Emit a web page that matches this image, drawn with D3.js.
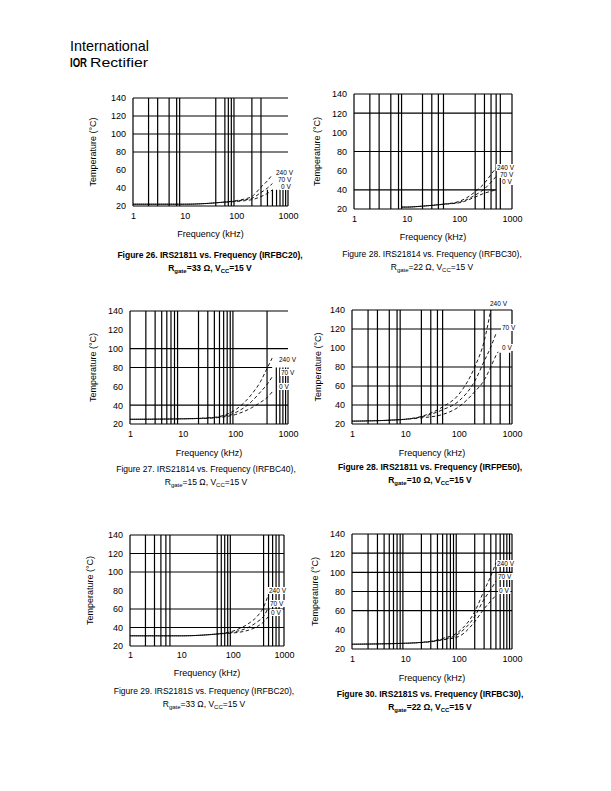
<!DOCTYPE html>
<html><head><meta charset="utf-8">
<script src="https://cdn.jsdelivr.net/npm/d3@7"></script>
<style>
html,body{margin:0;padding:0;background:#fff;}
svg text{font-family:"Liberation Sans",Arial,sans-serif;fill:#000;}
</style></head><body>
<svg id="page" width="611" height="791"></svg>
<script>
// ---------- data ----------
const seriesLabels = ["240 V", "70 V", "0 V"];
const xTickLabels = [1, 10, 100, 1000];
const yTickLabels = [20, 40, 60, 80, 100, 120, 140];

// Figure 26 (IRFBC20, 33 ohm)
const fig26Freq = [1, 10, 30, 50, 100, 150, 200, 300, 400, 500];
const fig26T240 = [22, 22, 23, 24, 26, 28, 30.5, 41, 48, 55];
const fig26T70  = [22, 22, 23, 24, 25.5, 27, 28.5, 35, 40, 45];
const fig26T0   = [22, 22, 23, 24, 25, 26, 27, 30.5, 34, 38];
const fig26HGrid = [80, 100, 120];
const fig26VGrid = [2, 3, 5, 7, 8, 40, 60, 70, 80, 90, 200, 300];
const fig26VPart = [400, 500, 600, 700, 800, 900, 1000];

// Figure 28 (IRFBC30, 22 ohm)
const fig28aFreq = [8, 10, 20, 50, 100, 200, 300, 400, 500];
const fig28aT240 = [22, 22, 23, 25, 28, 38, 47, 56, 63];
const fig28aT70  = [22, 22, 23, 25, 27, 34.5, 41, 48, 54];
const fig28aT0   = [22, 22, 23, 25, 26.5, 32.5, 36.5, 38.5, 40];
const fig28aHGrid = [80, 120];
const fig28aVGrid = [2, 3, 5, 7, 8, 20, 30, 40, 50, 200, 300, 400, 500, 600, 1000];
const fig28aVPart = [];

// Figure 27 (IRFBC40, 15 ohm)
const fig27Freq = [1, 10, 30, 50, 100, 200, 300, 400, 500];
const fig27T240 = [25, 25.5, 26.5, 28, 35, 51, 65, 79, 90];
const fig27T70  = [25, 25.5, 26.5, 27.5, 32, 43.5, 54, 62, 70];
const fig27T0   = [25, 25.5, 26, 27, 30, 37, 43, 48, 54];
const fig27HGrid = [40, 100];
const fig27VGrid = [2, 3, 4, 5, 6, 7, 8, 20, 30, 40, 50, 60, 70, 80, 90, 400];
const fig27VPart = [600, 700, 800, 900, 1000];

// Figure 28 (IRFPE50, 10 ohm)
const fig28bFreq = [1, 5, 10, 20, 50, 100, 200, 300, 400, 500, 550];
const fig28bT240 = [23, 24, 25, 28, 38, 51, 80, 107, 140, null, null];
const fig28bT70  = [23, 24, 25, 27.5, 35, 44, 65, 86, 101, 115, null];
const fig28bT0   = [23, 24, 25, 26.5, 30, 38, 54, 66, 80, 92, 96];
const fig28bHGrid = [40, 60, 80, 120];
const fig28bVGrid = [2, 3, 5, 7, 8, 20, 30, 40, 50, 200, 300, 400, 1000];
const fig28bVPart = [600, 900];

// Figure 29 (IRFBC20, 33 ohm)
const fig29Freq = [1, 10, 30, 50, 100, 200, 300, 400, 500];
const fig29T240 = [31, 31, 32, 33, 36, 44, 52, 62, 76];
const fig29T70  = [31, 31, 32, 33, 35, 40, 46, 52, 62];
const fig29T0   = [31, 31, 32, 33, 34, 37, 41, 46, 52];
const fig29HGrid = [40, 60, 100, 120];
const fig29VGrid = [2, 3, 4, 5, 6, 50, 60, 70, 80, 90, 400, 500, 600, 700, 800, 1000];
const fig29VPart = [];

// Figure 30 (IRFBC30, 22 ohm)
const fig30Freq = [1, 10, 30, 50, 100, 200, 300, 400, 500];
const fig30T240 = [25, 26, 28, 31, 38, 59, 81, 96, 110];
const fig30T70  = [25, 26, 28, 30, 36, 54, 72, 82, 91];
const fig30T0   = [25, 26, 27.5, 29.5, 33, 48.5, 62, 70, 76];
const fig30HGrid = [60, 80, 100, 120];
const fig30VGrid = [2, 3, 4, 5, 6, 7, 8, 9, 20, 30, 40, 50, 60, 70, 80, 90, 200, 300, 400, 500, 600, 700, 800, 900, 1000];
const fig30VPart = [];

// ---------- layout ----------
const charts = [
  {freq: fig26Freq, ser: [fig26T240, fig26T70, fig26T0], h: fig26HGrid, v: fig26VGrid, vp: fig26VPart, vpTop: 38,
   box: [133, 288, 98, 206], yt: 96, xtk: 222, xtt: 237, cap: [258, 271], capX: 210, bold: true,
   cap1: "Figure 26. IRS21811 vs. Frequency (IRFBC20),", r: "33",
   lab: [[276, 175], [278, 182], [281, 189]]},
  {freq: fig28aFreq, ser: [fig28aT240, fig28aT70, fig28aT0], h: fig28aHGrid, v: fig28aVGrid, vp: fig28aVPart, vpTop: 140,
   hPart: [40, 500],
   box: [354, 512, 94, 209], yt: 320, xtk: 225, xtt: 240, cap: [257, 270], capX: 432, bold: false,
   cap1: "Figure 28. IRS21814 vs. Frequency (IRFBC30),", r: "22",
   lab: [[497, 170], [500, 177], [502, 184]]},
  {freq: fig27Freq, ser: [fig27T240, fig27T70, fig27T0], h: fig27HGrid, v: fig27VGrid, vp: fig27VPart, vpTop: 80,
   hPart: [80, 500],
   box: [130, 288, 311, 424], yt: 96, xtk: 440, xtt: 456, cap: [472, 485], capX: 206, bold: false,
   cap1: "Figure 27. IRS21814 vs. Frequency (IRFBC40),", r: "15",
   lab: [[279, 362], [281, 375], [279, 389]]},
  {freq: fig28bFreq, ser: [fig28bT240, fig28bT70, fig28bT0], h: fig28bHGrid, v: fig28bVGrid, vp: fig28bVPart, vpTop: 95,
   box: [352, 512, 310, 424], yt: 321, xtk: 440, xtt: 456, cap: [470, 483], capX: 430, bold: true,
   cap1: "Figure 28. IRS21811 vs. Frequency (IRFPE50),", r: "10",
   lab: [[490, 306], [502, 330], [502, 350]]},
  {freq: fig29Freq, ser: [fig29T240, fig29T70, fig29T0], h: fig29HGrid, v: fig29VGrid, vp: fig29VPart, vpTop: 140,
   box: [130, 284, 535, 646], yt: 93, xtk: 661, xtt: 676, cap: [694, 707], capX: 204, bold: false,
   cap1: "Figure 29. IRS2181S vs. Frequency (IRFBC20),", r: "33",
   lab: [[269, 593], [270, 606], [271, 615]]},
  {freq: fig30Freq, ser: [fig30T240, fig30T70, fig30T0], h: fig30HGrid, v: fig30VGrid, vp: fig30VPart, vpTop: 140,
   box: [352, 512, 534, 649], yt: 318, xtk: 665, xtt: 681, cap: [697, 710], capX: 430, bold: true,
   cap1: "Figure 30. IRS2181S vs. Frequency (IRFBC30),", r: "22",
   lab: [[497, 566], [498, 579], [499, 593]]}
];

const svg = d3.select("#page");

// header logo
svg.append("text").attr("x", 70).attr("y", 51).attr("font-size", 15).attr("font-weight", 200)
  .attr("font-family", "DejaVu Sans, sans-serif")
  .attr("textLength", 79).attr("lengthAdjust", "spacingAndGlyphs").text("International");
svg.append("text").attr("x", 70).attr("y", 67).attr("font-size", 12).attr("font-weight", "bold")
  .attr("font-family", "Liberation Serif, serif").attr("textLength", 17).attr("lengthAdjust", "spacingAndGlyphs").text("IOR");
svg.append("text").attr("x", 90).attr("y", 67).attr("font-size", 13).attr("font-weight", 200)
  .attr("font-family", "DejaVu Sans, sans-serif")
  .attr("textLength", 58).attr("lengthAdjust", "spacingAndGlyphs").text("Rectifier");

function drawChart(c) {
  const [x0, x1, y0, y1] = c.box;
  const x = d3.scaleLog().domain([1, 1000]).range([x0, x1]);
  const y = d3.scaleLinear().domain([20, 140]).range([y1, y0]);
  const g = svg.append("g");
  const gl = g.append("g").attr("stroke", "#000").attr("stroke-width", 1.2);

  gl.append("line").attr("x1", x(1)).attr("x2", x(1)).attr("y1", y(140)).attr("y2", y(20));
  gl.append("line").attr("x1", x(1)).attr("x2", x(1000)).attr("y1", y(140)).attr("y2", y(140));
  gl.append("line").attr("x1", x(1)).attr("x2", x(1000)).attr("y1", y(20)).attr("y2", y(20));
  c.h.forEach(t => gl.append("line").attr("x1", x(1)).attr("x2", x(1000)).attr("y1", y(t)).attr("y2", y(t)));
  if (c.hPart) gl.append("line").attr("x1", x(1)).attr("x2", x(c.hPart[1])).attr("y1", y(c.hPart[0])).attr("y2", y(c.hPart[0]));
  c.v.forEach(f => gl.append("line").attr("x1", x(f)).attr("x2", x(f)).attr("y1", y(140)).attr("y2", y(20)));
  c.vp.forEach(f => gl.append("line").attr("x1", x(f)).attr("x2", x(f)).attr("y1", y(c.vpTop)).attr("y2", y(20)));

  const ya = g.append("g").attr("transform", `translate(${x0},0)`)
    .call(d3.axisLeft(y).tickValues(yTickLabels).tickSize(0).tickPadding(7).tickFormat(d3.format("d")));
  ya.select(".domain").remove();
  ya.selectAll("text").attr("font-size", 9).attr("font-family", "Liberation Sans, Arial, sans-serif");
  const xa = g.append("g").attr("transform", `translate(0,${c.xtk - 9})`)
    .call(d3.axisBottom(x).tickValues(xTickLabels).tickSize(0).tickPadding(0).tickFormat(d3.format("d")));
  xa.select(".domain").remove();
  xa.selectAll("text").attr("font-size", 9).attr("font-family", "Liberation Sans, Arial, sans-serif");

  g.append("text").attr("transform", `translate(${c.yt},${(y0 + y1) / 2}) rotate(-90)`)
    .attr("text-anchor", "middle").attr("font-size", 9).text("Temperature (°C)");
  g.append("text").attr("x", (x0 + x1) / 2).attr("y", c.xtt).attr("text-anchor", "middle")
    .attr("font-size", 9).text("Frequency (kHz)");

  // curve labels with white backing
  c.lab.forEach((p, i) => {
    const lg = g.append("g");
    const t = lg.append("text").attr("x", p[0]).attr("y", p[1]).attr("font-size", 6.5).text(seriesLabels[i]);
    const b = t.node().getBBox();
    lg.insert("rect", "text").attr("x", b.x - 1).attr("y", b.y).attr("width", b.width + 2)
      .attr("height", b.height).attr("fill", "#fff");
  });

  const line = d3.line().defined(d => d[1] != null).x(d => x(d[0])).y(d => y(d[1])).curve(d3.curveMonotoneX);
  c.ser.forEach((s, i) => {
    const pts = c.freq.map((f, k) => [f, s[k]]);
    g.append("path").attr("d", line(pts)).attr("fill", "none").attr("stroke", "#000")
      .attr("stroke-width", 0.9).attr("stroke-dasharray", "3.5,2.5").attr("stroke-dashoffset", i * 2);
  });

  const cap = g.append("g").attr("font-size", 8.5).attr("font-weight", c.bold ? "bold" : "normal");
  cap.append("text").attr("x", c.capX).attr("y", c.cap[0]).attr("text-anchor", "middle").text(c.cap1);
  const t2 = cap.append("text").attr("x", c.capX).attr("y", c.cap[1]).attr("text-anchor", "middle");
  t2.append("tspan").text("R");
  t2.append("tspan").attr("font-size", 6).attr("dy", 2).text("gate");
  t2.append("tspan").attr("dy", -2).text(`=${c.r} Ω, V`);
  t2.append("tspan").attr("font-size", 6).attr("dy", 2).text("CC");
  t2.append("tspan").attr("dy", -2).text("=15 V");
}

charts.forEach(drawChart);
</script>
</body></html>
